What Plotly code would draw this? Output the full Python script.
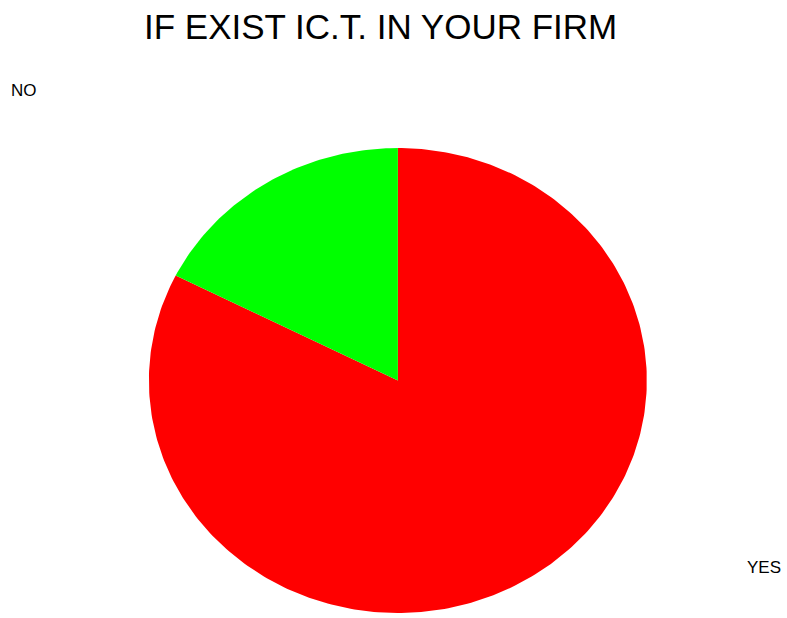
import numpy as np
import plotly.graph_objects as go

# Survey answers and their share of respondents (%)
labels = ["YES", "NO"]
values = [82.45, 17.55]
colors = ["#ff0000", "#00ff00"]

title_text = "IF EXIST IC.T. IN YOUR FIRM"

fig = go.Figure()

# Slices run clockwise from 12 o'clock, built as filled polygons on unit-radius axes
total = sum(values)
start = 0.0
for lab, val, col in zip(labels, values, colors):
    frac0 = start / total
    frac1 = (start + val) / total
    t = np.linspace(frac0, frac1, max(int(400 * (frac1 - frac0)), 8))
    ang = np.pi / 2 - 2 * np.pi * t
    xs = np.concatenate([[0.0], np.cos(ang), [0.0]])
    ys = np.concatenate([[0.0], np.sin(ang), [0.0]])
    fig.add_trace(go.Scatter(
        x=xs, y=ys, mode="lines", fill="toself",
        fillcolor=col, line=dict(width=0, color=col),
        name=lab, hoverinfo="name", showlegend=False,
    ))
    start += val

axis_common = dict(visible=False, showgrid=False, zeroline=False, fixedrange=True)

fig.update_layout(
    width=787, height=618,
    margin=dict(l=0, r=0, t=0, b=0),
    paper_bgcolor="white", plot_bgcolor="white",
    font=dict(family="Liberation Sans, Arial, sans-serif", color="black"),
    xaxis=dict(range=[-1.598, 1.563], **axis_common),
    yaxis=dict(range=[-1.0215, 1.6366], **axis_common),
    annotations=[
        dict(text=title_text, x=380.5 / 787, y=1 - 26 / 618, xref="paper", yref="paper",
             xanchor="center", yanchor="middle", showarrow=False,
             font=dict(size=35)),
        dict(text="NO", x=9 / 787, y=1 - 91 / 618, xref="paper", yref="paper",
             xanchor="left", yanchor="middle", showarrow=False,
             font=dict(size=17)),
        dict(text="YES", x=745 / 787, y=1 - 567 / 618, xref="paper", yref="paper",
             xanchor="left", yanchor="middle", showarrow=False,
             font=dict(size=17)),
    ],
)

fig.write_html("out.html")
